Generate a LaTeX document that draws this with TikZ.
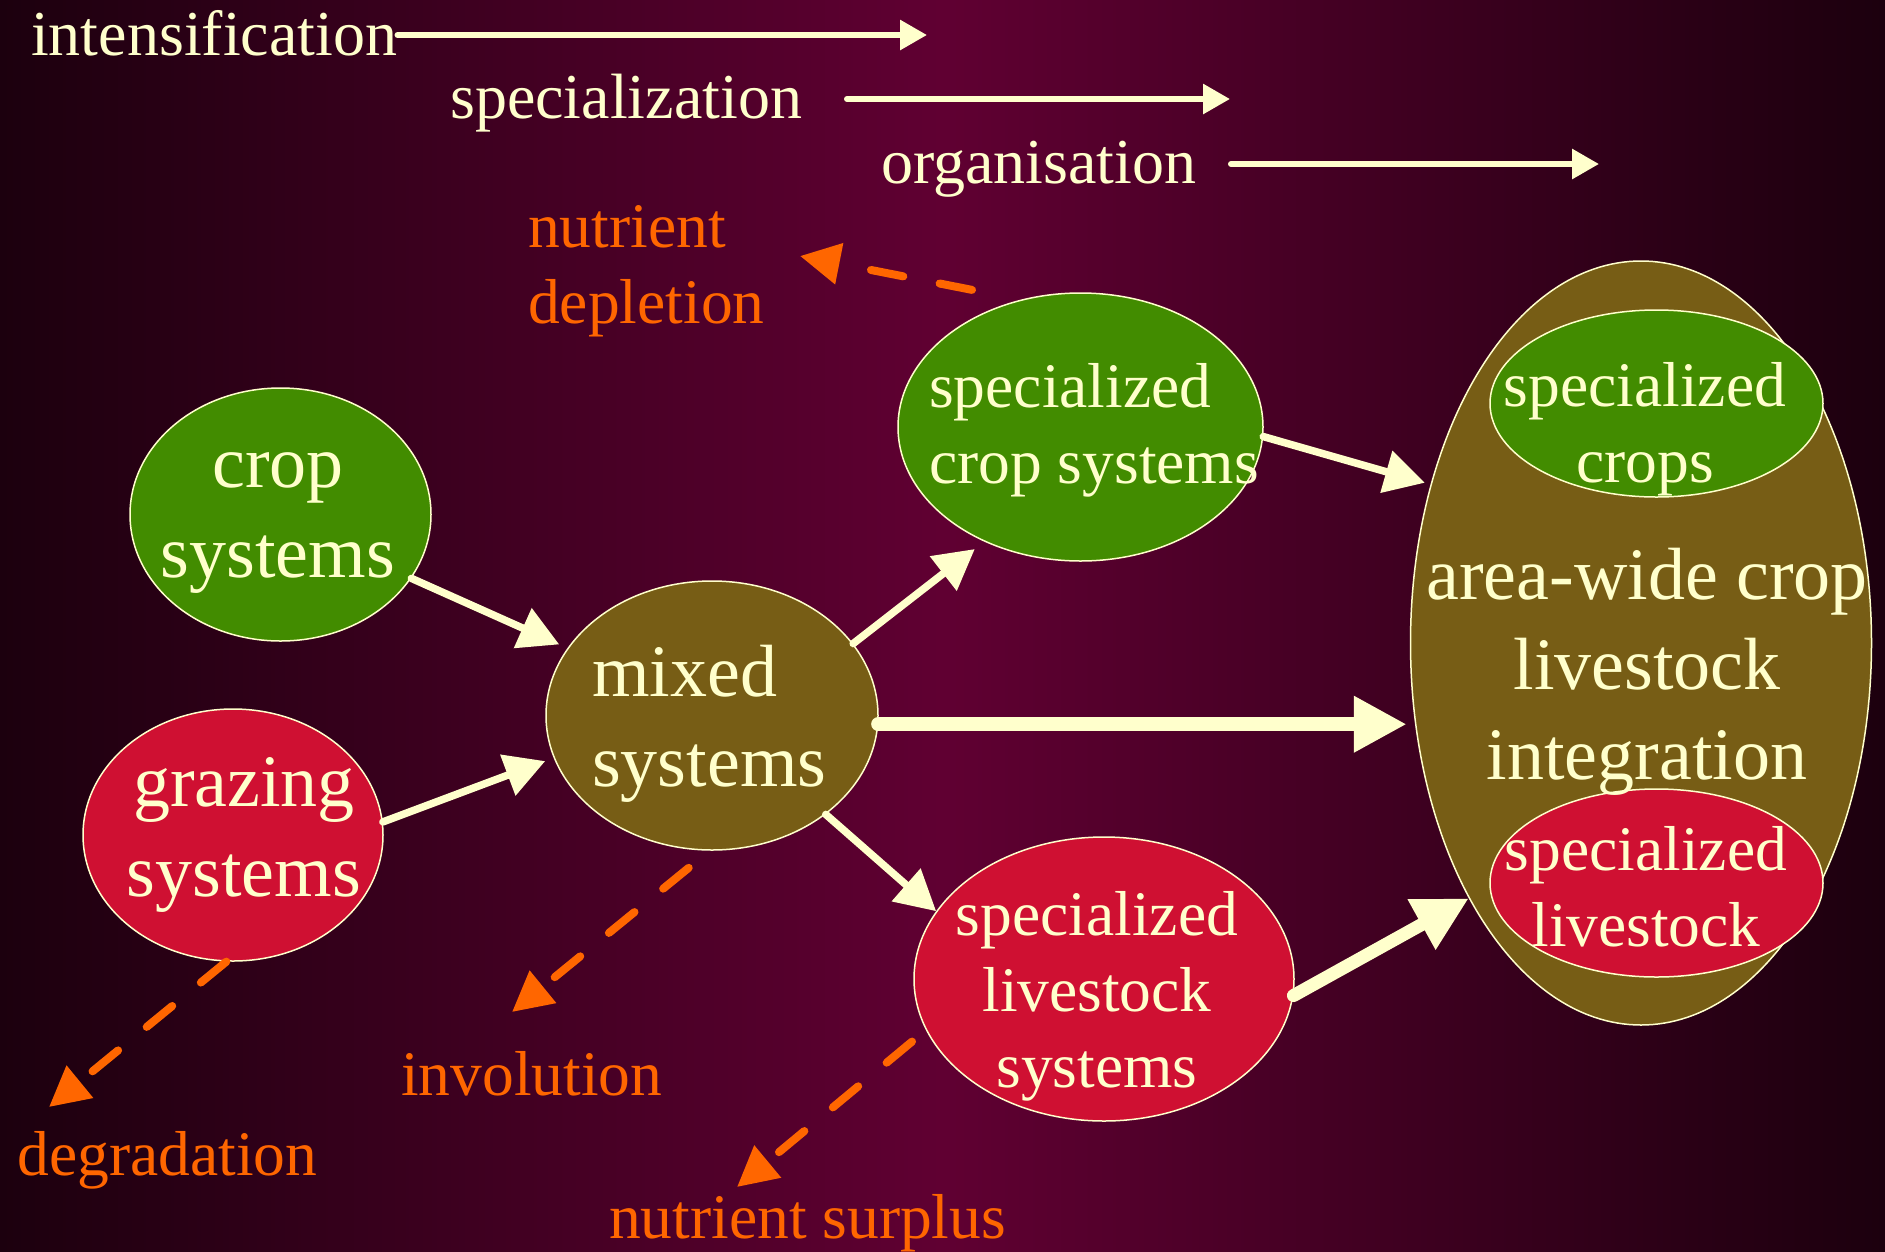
\documentclass[tikz,border=0pt]{standalone}
\usepackage{fontspec}
\setmainfont{Liberation Serif}
\usetikzlibrary{shapes.geometric,arrows.meta}
\definecolor{cream}{HTML}{FFFFCC}
\definecolor{leafgreen}{HTML}{428C00}
\definecolor{crimson}{HTML}{CF1032}
\definecolor{olivebrown}{HTML}{775D15}
\definecolor{warnorange}{HTML}{FF6600}
\definecolor{bgdark}{HTML}{1C000E}
\definecolor{bgmid}{HTML}{600032}
\newcommand{\cstack}[1]{\begin{tabular}[t]{@{}c@{}}#1\end{tabular}}
\newcommand{\lstack}[1]{\begin{tabular}[t]{@{}l@{}}#1\end{tabular}}
\begin{document}
\begin{tikzpicture}[x=1pt,y=-1pt,
  blob/.style={ellipse, draw=cream, line width=1.5pt, inner sep=0pt},
  bigtxt/.style={text=cream, inner sep=0pt, font=\fontsize{74}{90}\selectfont, anchor=base},
  smalltxt/.style={text=cream, inner sep=0pt, font=\fontsize{63.5}{76}\selectfont, anchor=base},
  toptxt/.style={text=cream, inner sep=0pt, font=\fontsize{64}{76}\selectfont, anchor=base west},
  otxt/.style={text=warnorange, inner sep=0pt, font=\fontsize{63.5}{76}\selectfont, anchor=base west},
  toparrow/.style={draw=cream, line width=6pt, line cap=round, -{Triangle[length=27pt,width=29pt]}},
  carrow/.style={draw=cream, line width=7.5pt, line cap=round, -{Triangle[length=40pt,width=42pt]}},
  oarrow/.style={draw=warnorange, line width=8pt, line cap=round, dash pattern=on 33pt off 37pt, -{Triangle[length=40pt,width=40pt]}}
]
\useasboundingbox (0,0) rectangle (1885,1251);
\shade[left color=bgdark, right color=bgdark, middle color=bgmid] (0,0) rectangle (1885,1251);

% ellipses
\node[blob, fill=olivebrown, minimum width=461pt, minimum height=764pt] (big) at (1641,643) {};
\node[blob, fill=leafgreen, minimum width=333pt, minimum height=187pt] (scrops) at (1656.5,403.5) {};
\node[blob, fill=crimson, minimum width=333pt, minimum height=188pt] (slive) at (1656.5,883) {};
\node[blob, fill=leafgreen, minimum width=301pt, minimum height=253pt] (crop) at (280.5,514.5) {};
\node[blob, fill=crimson, minimum width=300pt, minimum height=252pt] (graz) at (233,835) {};
\node[blob, fill=olivebrown, minimum width=332pt, minimum height=269pt] (mixed) at (712,715.5) {};
\node[blob, fill=leafgreen, minimum width=365pt, minimum height=268pt] (sc) at (1080.5,427) {};
\node[blob, fill=crimson, minimum width=380pt, minimum height=284pt] (sl) at (1104,979) {};

% texts in ellipses
\node[bigtxt] (crop-t) at (278,487) {\cstack{crop\\systems}};
\node[bigtxt] (graz-t) at (244,806) {\cstack{grazing\\systems}};
\node[bigtxt, anchor=base west] (mixed-t) at (592,696) {\lstack{mixed\\systems}};
\node[smalltxt, anchor=base west] (sc-t) at (929,407) {\lstack{specialized\\crop systems}};
\node[smalltxt] (sl-t) at (1097,935) {\cstack{specialized\\livestock\\systems}};
\node[bigtxt] (big-t) at (1647,599) {\cstack{area-wide crop\\livestock\\integration}};
\node[smalltxt] (scrops-t) at (1645,406) {\cstack{specialized\\crops}};
\node[smalltxt] (slive-t) at (1646,870) {\cstack{specialized\\livestock}};

% top labels
\node[toptxt] (intens) at (31,55) {intensification};
\node[toptxt] (specz) at (450,118) {specialization};
\node[toptxt] (organ) at (881,183) {organisation};
\coordinate (intens-end) at (927,35);
\coordinate (specz-start) at (847,99);
\coordinate (specz-end) at (1230,99);
\coordinate (organ-start) at (1231,164);
\coordinate (organ-end) at (1599,164);
\draw[toparrow] (intens-end -| intens.east) -- (intens-end);
\draw[toparrow] (specz-start) -- (specz-end);
\draw[toparrow] (organ-start) -- (organ-end);

% orange labels
\node[otxt] (depl) at (528,247) {\lstack{nutrient\\depletion}};
\node[otxt] (degr) at (17.5,1175) {degradation};
\node[otxt] (invol) at (401,1095) {involution};
\node[otxt] (surpl) at (609,1238) {nutrient surplus};
\coordinate (depl-tip) at (800,256);
\coordinate (degr-tip) at (49,1107);
\coordinate (invol-tip) at (512,1012);
\coordinate (surpl-tip) at (737,1187);

% orange dashed arrows
\draw[oarrow, shorten <=50pt] (sc.115) -- (depl-tip);
\draw[oarrow] (graz.267) -- (degr-tip);
\draw[oarrow, shorten <=27pt] (mixed.269) -- (invol-tip);
\draw[oarrow, shorten <=18pt] (sl.196) -- (surpl-tip);

% cream arrows
\draw[carrow, shorten >=9pt] (crop.334) -- (mixed.155);
\draw[carrow, shorten >=9pt] (graz.5) -- (mixed.195);
\draw[carrow, shorten >=12pt] (mixed.27) -- (sc.230);
\draw[carrow] (mixed.319) -- (sl.158);
\draw[carrow, line width=14.5pt, -{Triangle[length=53pt,width=53pt]}, shorten >=3pt] (mixed.357) -- (mixed.357 -| big.west);
\draw[carrow, shorten >=6pt] (sc.357) -- (big.143);
\draw[carrow, line width=13pt, -{Triangle[length=54pt,width=54pt]}] (sl.355) -- (big.236);
\end{tikzpicture}
\end{document}
